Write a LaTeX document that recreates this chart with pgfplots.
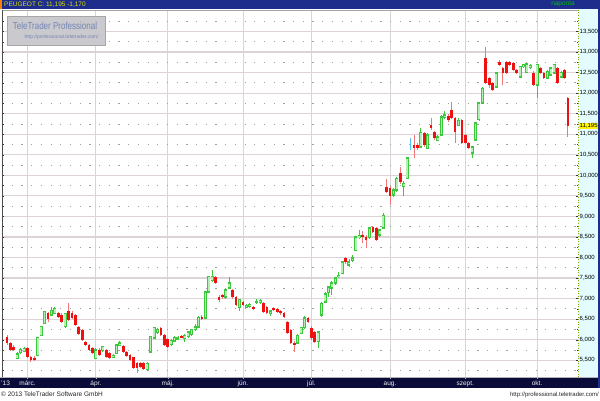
\documentclass[border=0pt]{standalone}
\usepackage{pgfplots}
\pgfplotsset{compat=1.18}
\usepackage{pgfplotstable}
\usepackage{fontspec}
\setmainfont{Liberation Sans}
\pgfdeclarelayer{background}
\pgfsetlayers{background,main}

\definecolor{hdrblue}{HTML}{1E2D8C}
\definecolor{barnavy}{HTML}{0B0B3A}
\definecolor{panelcyan}{HTML}{E2FCFF}
\definecolor{upfill}{HTML}{B4F0B4}
\definecolor{upline}{HTML}{3CC83C}
\definecolor{dnbody}{HTML}{EE1111}
\definecolor{dnwick}{HTML}{F07878}
\definecolor{gridmaj}{HTML}{DDD3D7}
\definecolor{gridx}{HTML}{D6D6D6}
\definecolor{gridmin}{HTML}{A0A0A0}
\definecolor{ttyellow}{HTML}{D8E400}
\definecolor{wmfill}{HTML}{C9C9CE}
\definecolor{wmtext}{HTML}{7584B5}

% trading day index (0 = 1 March 2013), open, high, low, close
\pgfplotstableread{
d o h l c
-3 5550 5690 5520 5650
-2 5700 5800 5650 5770
-1 5720 5820 5700 5790
3 5610 6070 5600 6060
4 6110 6340 6100 6320
5 6400 6700 6380 6680
7 6600 6790 6580 6720
8 6640 6800 6620 6760
11 6320 6660 6280 6640
20 5550 5790 5530 5750
22 5740 5850 5710 5830
25 5580 5660 5560 5620
26 5670 5900 5650 5870
27 5870 5960 5840 5920
35 5270 5460 5250 5430
36 5700 6090 5680 6070
37 6040 6320 6010 6290
38 6170 6290 6150 6240
42 5880 6020 5850 5990
43 5970 6080 5950 6050
44 6020 6090 6000 6050
46 6040 6130 5950 6110
47 6070 6220 6050 6190
48 6120 6270 6100 6240
49 6240 6380 6210 6310
50 6310 6580 6290 6550
52 6530 7180 6500 7160
53 7160 7540 7140 7530
54 7450 7700 7400 7530
58 7040 7250 6980 7210
59 7260 7520 7230 7380
62 6780 7000 6700 6970
64 6790 6880 6760 6840
65 6810 6890 6780 6860
67 6900 6980 6870 6930
68 6920 7000 6880 6960
71 6640 6730 6580 6700
79 5920 6140 5890 6110
80 6160 6320 6130 6290
81 6290 6570 6260 6530
85 5950 6220 5800 6190
86 6600 6920 6560 6890
87 6920 7150 6890 7110
88 7140 7300 7050 7280
89 7260 7420 7100 7380
90 7380 7530 7330 7500
91 7530 7640 7500 7570
92 7620 7920 7600 7890
94 7820 7960 7780 7890
95 7940 8050 7900 7990
96 8180 8520 8150 8500
97 8480 8680 8450 8540
100 8480 8750 8450 8720
103 8550 8700 8500 8670
104 8720 9080 8690 9030
107 9520 9680 9480 9640
108 9640 9960 9600 9930
110 9720 9850 9500 9810
111 9930 10450 9900 10420
115 10690 11150 10660 11050
117 10660 11020 10640 10980
120 10860 10970 10830 10930
121 10980 11470 10950 11420
122 11400 11560 11370 11470
126 11220 11390 11200 11340
130 10540 10720 10420 10690
131 10860 11300 10830 11270
132 11350 11790 11320 11760
133 11760 12150 11740 12120
137 12150 12520 12120 12490
144 12390 12670 12360 12640
145 12640 12720 12610 12690
146 12510 12740 12490 12710
147 12620 12720 12590 12680
149 12200 12720 11880 12690
152 12370 12560 12340 12530
153 12440 12640 12410 12610
154 12490 12720 12460 12690
156 12390 12540 12360 12510
}\uptab

\pgfplotstableread{
d o h l c
-6 6066 6120 5880 5920
-5 5920 5950 5720 5750
-4 5830 5870 5720 5740
0 5800 5820 5560 5580
1 5580 5600 5460 5500
2 5560 5600 5480 5510
6 6640 6680 6440 6500
9 6640 6680 6530 6560
10 6600 6640 6400 6440
12 6710 6890 6460 6480
13 6640 6700 6500 6520
14 6600 6620 6340 6360
15 6320 6340 6120 6150
16 6240 6260 5960 5990
17 5950 5980 5840 5870
18 5870 5900 5720 5750
19 5790 5820 5650 5670
21 5750 5790 5600 5630
23 5750 5780 5560 5590
24 5670 5700 5520 5550
28 5850 5880 5680 5700
29 5690 5720 5580 5610
30 5640 5660 5490 5510
31 5580 5590 5290 5310
32 5430 5450 5190 5310
33 5430 5460 5300 5340
34 5430 5460 5260 5290
39 6280 6300 6100 6120
40 6110 6130 5850 5870
41 6010 6030 5810 5830
45 6090 6110 6040 6060
51 6550 6590 6480 6500
55 7530 7560 7350 7380
56 7040 7100 6920 6970
57 7080 7110 7000 7040
60 7210 7240 7000 7040
61 7040 7060 6820 6840
63 6920 6950 6810 6840
66 6800 6830 6730 6750
69 6900 6920 6650 6680
70 6800 6830 6620 6650
72 6780 6800 6700 6720
73 6740 6770 6650 6680
74 6700 6720 6610 6640
75 6650 6670 6520 6550
76 6430 6460 6130 6160
77 6240 6260 5900 5920
78 5920 5960 5700 5870
82 6530 6560 6400 6430
83 6290 6330 6000 6040
84 6190 6220 5920 5950
93 7990 8020 7850 7890
98 8540 8650 8350 8510
99 8500 8540 8240 8430
101 8740 8770 8590 8620
102 8720 8750 8400 8430
105 9720 9920 9560 9600
106 9700 9750 9280 9500
109 10050 10200 9800 9840
113 10740 10990 10420 10660
114 10740 10790 10620 10660
116 11030 11060 10700 10740
118 11220 11390 11100 11150
119 11050 11080 10870 10900
123 11440 11480 11300 11350
124 11590 11790 11370 11390
125 11390 11420 10790 11060
127 11350 11380 10760 10790
128 10980 11000 10760 10790
129 10790 10820 10640 10670
134 12850 13120 12220 12250
135 12370 12400 12120 12200
136 12250 12280 12050 12080
138 12760 12800 12650 12680
139 12610 12630 12190 12490
140 12760 12790 12460 12490
141 12760 12790 12650 12680
142 12730 12760 12530 12560
143 12560 12590 12460 12490
148 12500 12530 12170 12200
150 12610 12640 12460 12490
151 12490 12520 12340 12370
155 12610 12640 12220 12250
157 12560 12590 12340 12365
158 11880 11900 10930 11195
}\dntab

\pgfplotstableread{
d o h l c
112 10750 10900 10620 10750
}\dojitab

\begin{document}
\begin{tikzpicture}
\begin{axis}[
  name=ax, at={(0,0)}, anchor=south west,
  scale only axis, width=576pt, height=367pt,
  xmin=-7.46, xmax=160.96,
  ymin=5093, ymax=14022,
  separate axis lines,
  x axis line style={draw=gray!70},
  y axis line style={draw=none},
  xtick={0,20,41,63,83,106,128,149},
  xticklabels={},
  xtick pos=bottom, xtick align=outside,
  ytick={5500,6000,...,13500},
  yticklabels={},
  minor ytick={5250,5750,...,13750},
  ytick pos=both, ytick align=inside,
  major tick length=2pt, minor tick length=1.5pt,
  xtick style={draw=gray!60},
  ytick style={draw=black!80, line width=0.4pt},
  scaled y ticks=false,
  xmajorgrids, ymajorgrids, yminorgrids,
  major x grid style={draw=gridx, line width=0.9pt},
  major y grid style={draw=gridmaj, line width=1.2pt},
  minor y grid style={draw=gridmin, line width=0.8pt, dash pattern=on 1.2pt off 8.5pt},
]
% down candles: wicks then bodies
\addplot[draw=none, mark=none, error bars/.cd, y dir=both, y explicit, error mark=none,
  error bar style={draw=dnwick, line width=0.9pt}]
  table[x=d, y expr={(\thisrow{h}+\thisrow{l})/2}, y error expr={(\thisrow{h}-\thisrow{l})/2}] {\dntab};
\addplot[draw=none, mark=none, error bars/.cd, y dir=both, y explicit, error mark=none,
  error bar style={draw=dnbody, line width=2.7pt}]
  table[x=d, y expr={(\thisrow{o}+\thisrow{c})/2}, y error expr={(\thisrow{o}-\thisrow{c})/2}] {\dntab};
% up candles: wicks, outline, light fill
\addplot[draw=none, mark=none, error bars/.cd, y dir=both, y explicit, error mark=none,
  error bar style={draw=upline, line width=0.9pt}]
  table[x=d, y expr={(\thisrow{h}+\thisrow{l})/2}, y error expr={(\thisrow{h}-\thisrow{l})/2}] {\uptab};
\addplot[draw=none, mark=none, error bars/.cd, y dir=both, y explicit, error mark=none,
  error bar style={draw=upline, line width=3pt}]
  table[x=d, y expr={(\thisrow{o}+\thisrow{c})/2}, y error expr={(\thisrow{c}-\thisrow{o})/2+15}] {\uptab};
\addplot[draw=none, mark=none, error bars/.cd, y dir=both, y explicit, error mark=none,
  error bar style={draw=upfill, line width=1.6pt}]
  table[x=d, y expr={(\thisrow{o}+\thisrow{c})/2}, y error expr={max((\thisrow{c}-\thisrow{o})/2-15,0)}] {\uptab};
% unchanged day
\addplot[draw=none, mark=none, error bars/.cd, y dir=both, y explicit, error mark=none,
  error bar style={draw=cyan!70, line width=0.9pt}]
  table[x=d, y expr={(\thisrow{h}+\thisrow{l})/2}, y error expr={(\thisrow{h}-\thisrow{l})/2}] {\dojitab};
% anchors for the labels drawn outside the axis
\coordinate (lastc) at (axis cs:160.96,11195);
\pgfplotsinvokeforeach{5500,6000,6500,7000,7500,8000,8500,9000,9500,10000,10500,11000,11500,12000,12500,13000,13500}{
  \coordinate (yl#1) at (axis cs:160.96,#1);
}
\pgfplotsinvokeforeach{0,20,41,63,83,106,128,149}{
  \coordinate (xl#1) at (axis cs:#1,5093);
}
\end{axis}

% everything else in a 600 x 400 frame tied to the axis corner
\begin{scope}[shift={(ax.south west)}, x=1pt, y=1pt, xshift=-2pt, yshift=-23pt]
\begin{pgfonlayer}{background}
\fill[white] (0,0) rectangle (600,400);
\fill[hdrblue] (0,391) rectangle (600,400);
\fill[orange] (0,391) rectangle (2,400);
\fill[panelcyan] (578,23) rectangle (598,391);
\fill[barnavy] (0,12) rectangle (598,23);
\fill[hdrblue] (598,12) rectangle (600,400);
\end{pgfonlayer}

\draw[gray!60!black, line width=0.6pt] (2,23) -- (2,390);
\draw[ttyellow!70!black, line width=0.6pt, dotted] (578,23) -- (578,391);
\draw[gray!60, line width=0.6pt] (0,23) -- (598,23);

% value labels on the right
\foreach \v in {5500,6000,6500,7000,7500,8000,8500,9000,9500,10000,10500,11000,11500,12000,12500,13000,13500}
  \node[anchor=west, inner sep=0pt, font=\fontsize{6}{7}\selectfont]
    at (579.5,0 |- yl\v) {\pgfmathprintnumber[1000 sep={,}, assume math mode=true]{\v}};
\node[fill=yellow, inner sep=0.5pt, anchor=west, font=\fontsize{6}{7}\selectfont] at (579,0 |- lastc) {11,195};

% month labels in the bottom bar
\foreach \d/\m in {0/márc.,20/ápr.,41/máj.,63/jún.,83/júl.,106/aug.,128/szept.,149/okt.}
  \node[anchor=base, inner sep=0pt, text=white!88!gray, font=\fontsize{6.5}{7}\selectfont]
    at (xl\d |- 0,15) {\m};
\node[anchor=base west, inner sep=0pt, text=white!88!gray, font=\fontsize{6.5}{7}\selectfont] at (1,15) {'13};

% watermark
\draw[fill=wmfill, draw=gray!70] (7,355) rectangle (105,384);
\node[text=wmtext, xscale=0.8, font=\fontsize{10}{11}\selectfont] at (55,374) {TeleTrader Professional};
\node[text=wmtext, font=\fontsize{5}{6}\selectfont] at (61.5,363) {http://professional.teletrader.com/};

% header and footer text
\node[anchor=west, inner sep=0pt, text=ttyellow, font=\fontsize{6.5}{7}\selectfont] at (4,395.5) {PEUGEOT C: 11,195 -1,170};
\node[inner sep=0pt, text=green!75!black, font=\fontsize{6.5}{7}\selectfont] at (563,395.5) {naponta};
\node[anchor=base west, inner sep=0pt, text=black!85, font=\fontsize{6.5}{7}\selectfont] at (1,3.5) {© 2013 TeleTrader Software GmbH};
\node[anchor=base east, inner sep=0pt, text=black!85, font=\fontsize{6}{7}\selectfont] at (599,3.5) {http://professional.teletrader.com/};

\pgfresetboundingbox
\path[use as bounding box] (0,0) rectangle (600,400);
\end{scope}
\end{tikzpicture}
\end{document}
